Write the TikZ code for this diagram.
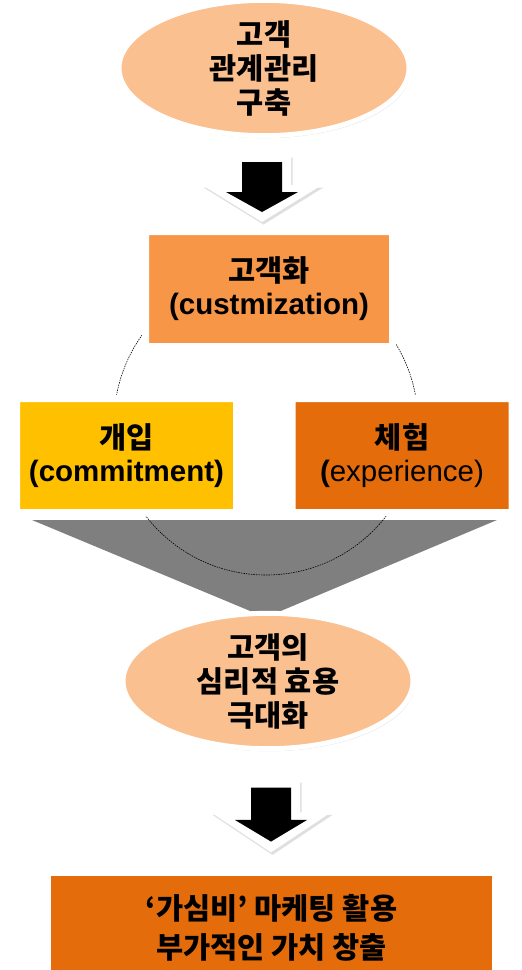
\documentclass[tikz,border=0pt]{standalone}
\usepackage{fontspec}
\setmainfont{Liberation Sans}
\newfontfamily\krfont{Noto Sans CJK KR}
\usetikzlibrary{shapes.geometric,shadows,positioning}
\definecolor{gsPeach}{HTML}{FAC090}
\definecolor{gsOrange}{HTML}{F79646}
\definecolor{gsGold}{HTML}{FFC000}
\definecolor{gsDark}{HTML}{E46C0A}
\definecolor{gsGray}{HTML}{7F7F7F}
\tikzset{
    % Shadow and node styles
    softshadow/.style={drop shadow={shadow xshift=1.5pt,shadow yshift=-2.5pt,opacity=0.25,fill=black!50}},
    goalell/.style={ellipse,draw=white,line width=5pt,fill=gsPeach,minimum width=290pt,minimum height=120pt,inner sep=0pt,align=center,softshadow},
    stagebox/.style={rectangle,draw=white,line width=7pt,rounded corners=1pt,minimum width=220pt,minimum height=114pt,inner sep=0pt,align=center,softshadow},
    finalbox/.style={rectangle,fill=gsDark,minimum width=441pt,minimum height=103pt,inner sep=0pt,align=center},
    circline/.style={black,line width=0.6pt,dash pattern=on 1.5pt off 1pt},
    blockarrow/.pic={
        \fill[white,softshadow] (-29,0) -- (29,0) -- (29,30) -- (60,30) -- (0,67) -- (-60,30) -- (-29,30) -- cycle;
        \fill[black] (-20,7) -- (20,7) -- (20,37) -- (36,37) -- (0,57) -- (-36,37) -- (-20,37) -- cycle;
    }
}

\begin{document}
\begin{tikzpicture}[x=1pt,y=-1pt,
    font=\fontsize{29.5}{33}\selectfont,
    kr/.style={font=\fontsize{29.5}{34}\selectfont\krfont\bfseries}
]
  \fill[white] (0,0) rectangle (522,970);
  \useasboundingbox (0,0) rectangle (522,970);

  % Funnel and dotted ring behind the stages
  \fill[gsGray] (32,520) -- (497,520) -- (276,613) -- (255,613) -- cycle;
  \coordinate (hub) at (266,423);
  \draw[circline] (hub) circle[radius=152];

  % Start
  \node[goalell,kr] (crm) at (264,68) {고객\\관계관리\\구축};
  \coordinate (arr1) at (262,155);
  \pic at (arr1) {blockarrow};

  % Three stages
  \node[stagebox,fill=gsOrange,minimum width=247pt,minimum height=115pt] (cust) at (269,289)
      {{\krfont\bfseries 고객화}\\\textbf{(custmization)}};
  \node[stagebox,fill=gsGold] (commit) at (126.5,455.5)
      {{\krfont\bfseries 개입}\\\textbf{(commitment)}};
  \node[stagebox,fill=gsDark] (exper) at (402,455.5)
      {{\krfont\bfseries 체험}\\\textbf{(}experience)};

  % Result
  \node[goalell,kr,minimum height=122pt] (util) at (268,681) {고객의\\심리적 효용\\극대화};
  \coordinate (arr2) at (271,780);
  \pic[yscale=1.08] at (arr2) {blockarrow};

  \node[finalbox,kr,font=\fontsize{29.5}{39}\selectfont\krfont\bfseries] (value) at (271.5,927.5) {‘가심비’ 마케팅 활용\\부가적인 가치 창출};
\end{tikzpicture}
\end{document}
